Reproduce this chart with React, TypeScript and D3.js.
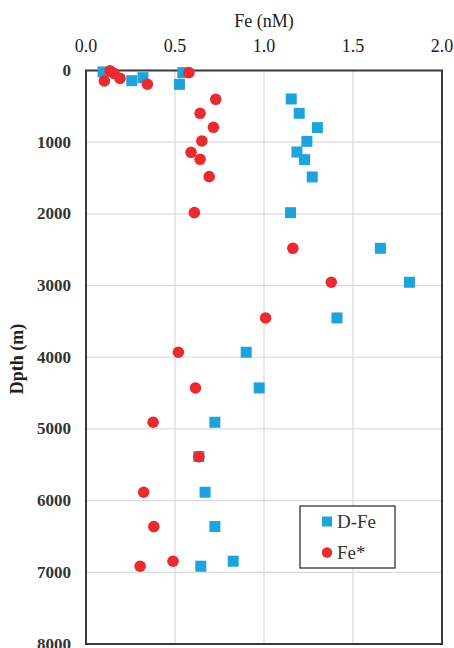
import * as d3 from 'd3';

// D-Fe (dissolved iron), nM vs depth (m)
const dFeDepth = [20, 30, 100, 142, 193, 397, 597, 797, 988, 1137, 1244, 1485, 1983, 2480, 2954, 3452, 3930, 4428, 4907, 5386, 5883, 6362, 6845, 6915];
const dFeValue = [0.096, 0.544, 0.32, 0.257, 0.525, 1.153, 1.198, 1.30, 1.241, 1.185, 1.228, 1.271, 1.149, 1.654, 1.817, 1.41, 0.90, 0.973, 0.724, 0.634, 0.669, 0.724, 0.827, 0.645];

// Fe* values, nM vs depth (m)
const feStarDepth = [5, 30, 40, 110, 146, 192, 402, 597, 792, 983, 1141, 1239, 1481, 1983, 2480, 2954, 3452, 3930, 4428, 4907, 5386, 5883, 6362, 6845, 6915];
const feStarValue = [0.135, 0.578, 0.157, 0.191, 0.103, 0.345, 0.729, 0.641, 0.716, 0.651, 0.59, 0.641, 0.692, 0.609, 1.162, 1.378, 1.009, 0.519, 0.615, 0.377, 0.634, 0.324, 0.381, 0.489, 0.304];

const xTicks = [0, 0.5, 1.0, 1.5, 2.0];
const yTicks = [0, 1000, 2000, 3000, 4000, 5000, 6000, 7000, 8000];

const BLUE = '#1fa3dc';
const RED = '#e92a2f';
const FONT = "'Liberation Serif', 'DejaVu Serif', serif";

const W = 454;
const H = 648;
const margin = { top: 70.5, right: 12, bottom: 4, left: 86 };

export default function App() {
  const x = d3.scaleLinear().domain([0, 2]).range([margin.left, W - margin.right]);
  const y = d3.scaleLinear().domain([0, 8000]).range([margin.top, H - margin.bottom]);

  const dFe = dFeDepth.map((d, i) => ({ depth: d, fe: dFeValue[i] }));
  const feStar = feStarDepth.map((d, i) => ({ depth: d, fe: feStarValue[i] }));

  const sq = 11;
  const lx = 300, ly = 506;

  return (
    <svg width={W} height={H} style={{ position: 'absolute', left: 0, top: 0, background: '#fff', fontFamily: FONT }}>
      {/* grid */}
      {xTicks.slice(1, -1).map(t => (
        <line key={'gx' + t} x1={x(t)} x2={x(t)} y1={y(0)} y2={y(8000)} stroke="#dadada" strokeWidth={1.2} />
      ))}
      {yTicks.slice(1, -1).map(t => (
        <line key={'gy' + t} x1={x(0)} x2={x(2)} y1={y(t)} y2={y(t)} stroke="#dadada" strokeWidth={1.2} />
      ))}

      {/* frame */}
      <rect x={x(0)} y={y(0)} width={x(2) - x(0)} height={y(8000) - y(0)} fill="none" stroke="#3a3a3a" strokeWidth={2} />

      {/* x ticks on top */}
      {xTicks.map(t => (
        <text key={'xt' + t} x={x(t)} y={52} textAnchor="middle" fontSize={18} fill="#222" style={{ fontFamily: FONT }}>{d3.format('.1f')(t)}</text>
      ))}
      <text x={x(1)} y={27} textAnchor="middle" fontSize={18} fill="#222" style={{ fontFamily: FONT }}>Fe (nM)</text>

      {/* y ticks */}
      {yTicks.map(t => (
        <text key={'yt' + t} x={71} y={y(t) + 5.5} textAnchor="end" fontSize={17} fontWeight="bold" fill="#333" style={{ fontFamily: FONT }}>{t}</text>
      ))}
      <text transform={`translate(23, 359) rotate(-90)`} textAnchor="middle" fontSize={18} fontWeight="bold" fill="#222" style={{ fontFamily: FONT }}>Dpth (m)</text>

      {/* D-Fe squares */}
      {dFe.map((d, i) => (
        <rect key={'b' + i} x={x(d.fe) - sq / 2} y={y(d.depth) - sq / 2} width={sq} height={sq} fill={BLUE} />
      ))}
      {/* Fe* circles */}
      {feStar.map((d, i) => (
        <circle key={'r' + i} cx={x(d.fe)} cy={y(d.depth)} r={5.8} fill={RED} />
      ))}

      {/* legend */}
      <rect x={lx} y={ly} width={95} height={62} fill="#fff" stroke="#333" strokeWidth={1.3} />
      <rect x={lx + 22} y={ly + 10.5} width={10} height={10} fill={BLUE} />
      <text x={lx + 37} y={ly + 22} fontSize={19} fill="#333" style={{ fontFamily: FONT }}>D-Fe</text>
      <circle cx={lx + 27} cy={ly + 46.5} r={5.2} fill={RED} />
      <text x={lx + 37} y={ly + 53} fontSize={19} fill="#333" style={{ fontFamily: FONT }}>Fe*</text>
    </svg>
  );
}
